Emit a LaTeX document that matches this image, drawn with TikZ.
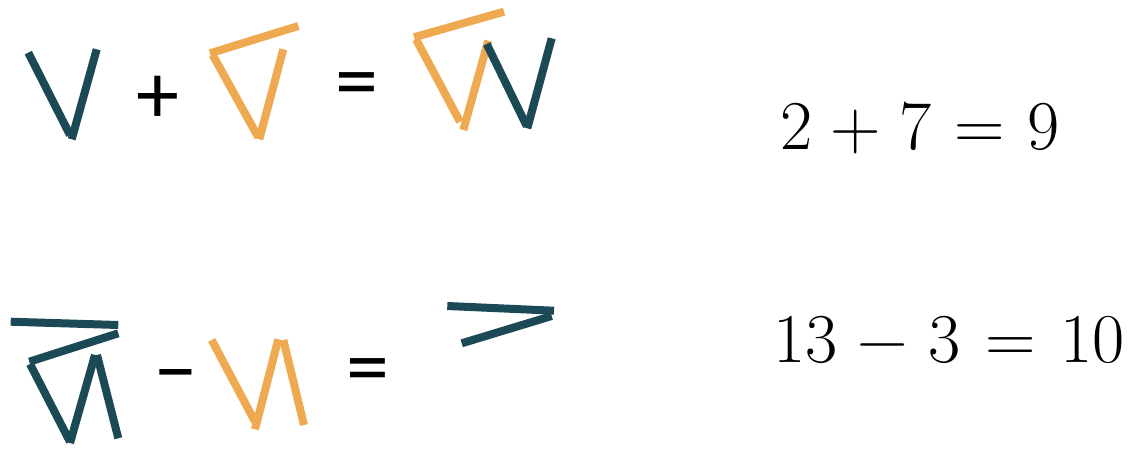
\documentclass[tikz,border=0pt]{standalone}
\usepackage{fontspec}
\newfontfamily\opfont{Carlito}
\definecolor{stickteal}{RGB}{27,74,86}
\definecolor{stickorange}{RGB}{239,169,80}
\newcommand{\gapA}{\hspace{18.5pt}}
\newcommand{\gapB}{\hspace{22.5pt}}
\newcommand{\gapC}{\hspace{20.5pt}}
\newcommand{\gapD}{\hspace{24.5pt}}
\begin{document}
\begin{tikzpicture}[x=1pt,y=-1pt,
  tstick/.style={draw=stickteal,line width=8pt},
  ostick/.style={draw=stickorange,line width=8pt},
  opsign/.style={font=\opfont\fontsize{86}{86}\selectfont,inner sep=0pt,anchor=center},
  eqtext/.style={font=\fontsize{70}{80}\selectfont,inner sep=0pt,anchor=base west}]
\useasboundingbox (0,0) rectangle (1136,448);
% ---- top row: V + orange = W
\draw[tstick] (28.3,52.7) -- (70,135);
\draw[tstick] (96.7,49.3) -- (71.7,139.3);
\node[opsign] (plusA) at (157.5,99.7) {+};
\draw[ostick] (210,53.3) -- (298.3,26);
\draw[ostick] (212.7,55) -- (258.3,137.3);
\draw[ostick] (283.3,49.3) -- (259.3,139.3);
\node[opsign] (eqA) at (356.7,91.2) {=};
\draw[ostick] (414,37.3) -- (504,11.7);
\draw[ostick] (416,39.3) -- (460,121.7);
\draw[ostick] (488.3,40.7) -- (463.3,130);
\draw[tstick] (486.7,44) -- (526.7,126);
\draw[tstick] (551.7,38.3) -- (527.3,128.3);
% ---- bottom row
\draw[tstick] (10.7,321.7) -- (118.3,325);
\draw[tstick] (118.3,333.3) -- (29.3,361.7);
\draw[tstick] (30,364) -- (70,441.7);
\draw[tstick] (70,443) -- (95,355);
\draw[tstick] (97,355) -- (118.3,438.3);
\node[opsign] (minusB) at (176,384.3) {−};
\draw[ostick] (211.7,340) -- (255,421.7);
\draw[ostick] (255,429.3) -- (278.3,339.3);
\draw[ostick] (283.3,340) -- (304,425);
\node[opsign] (eqB) at (367.5,377.5) {=};
\draw[tstick] (447.3,306) -- (554,310.7);
\draw[tstick] (551.7,316) -- (461.7,343.3);
% ---- equations
\node[eqtext] (sumA) at (780,149) {2\gapA+\gapA7\gapB=\gapB9};
\node[eqtext] (diffB) at (773,362.7) {13\gapC−\gapC3\gapD=\gapD10};
\end{tikzpicture}
\end{document}
